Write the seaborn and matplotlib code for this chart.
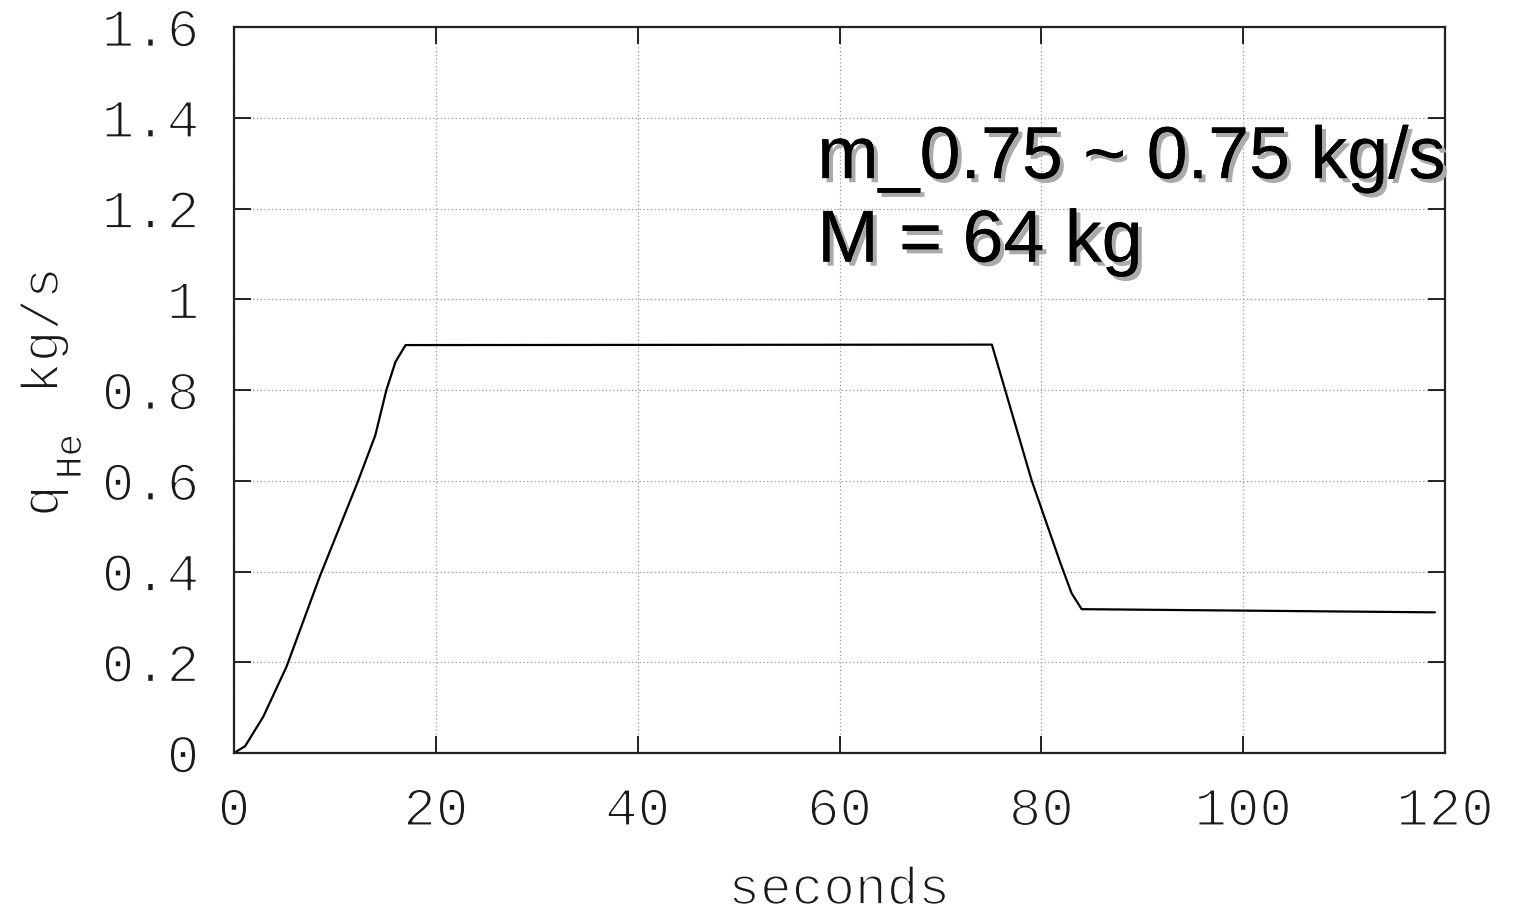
import matplotlib
matplotlib.use("Agg")
import matplotlib.pyplot as plt
import matplotlib.patheffects as pe
import seaborn as sns
import pandas as pd

# data
seconds = [0.0, 1.1, 2.9, 5.2, 8.5, 12.2, 14.0, 15.1, 16.0, 17.0,
           75.1, 79.05, 81.9, 83.0, 84.0, 119.0]
q_he = [0.0, 0.015, 0.08, 0.19, 0.389, 0.594, 0.70, 0.80, 0.862, 0.899,
        0.90, 0.60, 0.418, 0.352, 0.317, 0.310]
x_ticks = [0, 20, 40, 60, 80, 100, 120]
y_ticks = [0, 0.2, 0.4, 0.6, 0.8, 1.0, 1.2, 1.4, 1.6]
y_tick_labels = ["0", "0.2", "0.4", "0.6", "0.8", "1", "1.2", "1.4", "1.6"]
annotation_lines = ["m_0.75 ~ 0.75 kg/s", "M = 64 kg"]

df = pd.DataFrame({"seconds": seconds, "q": q_he})

sns.set_style("ticks")
plt.rcParams["font.family"] = ["Liberation Mono", "DejaVu Sans Mono"]

W, H = 1529, 915
fig = plt.figure(figsize=(W / 100, H / 100), dpi=100)
ax = fig.add_axes([234 / W, 1 - 753 / H, (1445 - 234) / W, (753 - 27) / H])

sns.lineplot(data=df, x="seconds", y="q", ax=ax, color="black", linewidth=1.6,
             estimator=None, sort=False)

thin = [pe.Stroke(linewidth=1.3, foreground="white")]
thin_small = [pe.Stroke(linewidth=0.7, foreground="white")]
txt_color = "#1a1a1a"

ax.set_xlim(0, 120)
ax.set_ylim(0, 1.6)
ax.set_xticks(x_ticks)
ax.set_xticklabels([str(v) for v in x_ticks])
ax.set_yticks(y_ticks)
ax.set_yticklabels(y_tick_labels)
ax.grid(True, linestyle=(0, (1, 2)), color="#999999", linewidth=0.9)
ax.tick_params(direction="in", length=12, width=1.2, labelsize=39,
               top=True, right=True, colors="black")
ax.tick_params(axis="y", pad=25)
ax.tick_params(axis="x", pad=24)
for lab in ax.get_xticklabels() + ax.get_yticklabels():
    lab.set_color(txt_color)
    lab.set_path_effects(thin)
for s in ax.spines.values():
    s.set_linewidth(1.6)
    s.set_color("#222222")

ax.set_xlabel("")
ax.set_ylabel("")

# axis titles
fig.text(839 / W, 1 - 904 / H, "seconds", fontsize=38, ha="center", va="baseline",
         color=txt_color, path_effects=thin)
fig.text(58 / W, 1 - 517 / H, "q", fontsize=38, rotation=90, rotation_mode="anchor",
         ha="left", va="baseline", color=txt_color, path_effects=thin)
fig.text(81 / W, 1 - 479 / H, "He", fontsize=27, rotation=90, rotation_mode="anchor",
         ha="left", va="baseline", color=txt_color, path_effects=thin_small)
fig.text(58 / W, 1 - 394 / H, "kg/s", fontsize=38, rotation=90, rotation_mode="anchor",
         ha="left", va="baseline", color=txt_color, path_effects=thin)

shadow = [pe.withSimplePatchShadow(offset=(3, -3), shadow_rgbFace="#aaaaaa", alpha=1.0),
          pe.Normal()]
ax.text(57.8, 1.267, annotation_lines[0], fontsize=53, family="Liberation Sans",
        color="black", path_effects=shadow)
ax.text(57.8, 1.083, annotation_lines[1], fontsize=53, family="Liberation Sans",
        color="black", path_effects=shadow)

fig.savefig("out.png", dpi=100)
